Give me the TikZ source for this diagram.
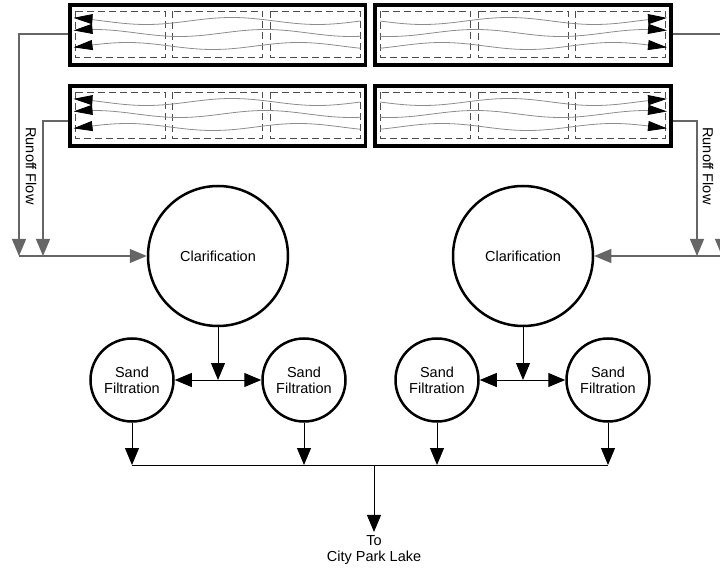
\documentclass[tikz,border=0pt]{standalone}
\usepackage{fontspec}
\setmainfont{Liberation Sans}
\usetikzlibrary{arrows.meta}
\usetikzlibrary{calc}
\tikzset{
	bed/.style={rectangle,draw,line width=3.5pt,minimum width=296pt,minimum height=60pt,inner sep=0pt},
	cell/.style={draw=black!70,line width=0.8pt,dash pattern=on 7pt off 4pt},
	wave/.style={draw=black!45,line width=0.8pt,-{Triangle[length=19pt,width=10pt,color=black]}},
	tank/.style={circle,draw,line width=2.5pt,minimum size=140pt,inner sep=0pt},
	filter/.style={circle,draw,line width=2.5pt,minimum size=83pt,inner sep=0pt,align=center},
	runoff/.style={->,> = {Triangle[length=17pt,width=14pt]},line width=1.1pt,draw=black!60},
	edge/.style={->,> = {Triangle[length=17pt,width=14pt]},line width=1pt}
}

\begin{document}
\begin{tikzpicture}[x=1pt,y=-1pt,font=\fontsize{14.5}{16}\selectfont]
		\useasboundingbox (0,0) rectangle (720,569);
		\clip (0,0) rectangle (720,569);
		
		% filter beds with flow lines
		\foreach \n/\cx/\cy/\s in {bedA/217.5/35/1,bedB/217.5/116/1,bedC/523/35/-1,bedD/523/116/-1}{
			\node[bed] (\n) at (\cx,\cy) {};
			\draw[line width=0.8pt] ($(\n.north west)+(3.2,3.2)$) rectangle ($(\n.south east)+(-3.2,-3.2)$);
			\foreach \dx in {-97.5,0,97.5}
				\draw[cell] (\cx+\dx-45,\cy-24) rectangle (\cx+\dx+45,\cy+22);
			\foreach \dy/\ph in {-14/0,-2/70,11/140}
				\draw[wave] plot[domain=0:287,samples=80] ({\cx+\s*(143-\x)},{\cy+\dy+3.5*sin(2.1*\x+\ph)});
		}
		
		\node[tank] (clarL) at (218,256) {Clarification};
		\node[tank] (clarR) at (523,256) {Clarification};
		\node[filter] (sandA) at (132,380) {Sand\\Filtration};
		\node[filter] (sandB) at (304,380) {Sand\\Filtration};
		\node[filter] (sandC) at (437,380) {Sand\\Filtration};
		\node[filter] (sandD) at (608,380) {Sand\\Filtration};
		\node[align=center] (lake) at (374,550) {To\\City Park Lake};
		\node[rotate=-90] (flowL) at (31,166) {Runoff Flow};
		\node[rotate=-90] (flowR) at (708,166) {Runoff Flow};
		
		\coordinate (dropA) at (19,256);
		\coordinate (dropB) at (43,256);
		\coordinate (dropC) at (697,256);
		\coordinate (dropD) at (722,256);
		\coordinate (splitL) at (218,380);
		\coordinate (splitR) at (523,380);
		\coordinate (outA) at (132,465);
		\coordinate (outB) at (304,465);
		\coordinate (outC) at (437,465);
		\coordinate (outD) at (608,465);
		\coordinate (outM) at (374,465);
		
		% runoff
		\draw[runoff] ($(bedA.west)+(0,-1)$) -| (dropA);
		\draw[runoff] ($(bedB.west)+(0,5)$) -| (dropB);
		\draw[runoff] ($(bedC.east)+(0,-1)$) -| (dropD);
		\draw[runoff] ($(bedD.east)+(0,5)$) -| (dropC);
		\draw[runoff] (dropA) -- (clarL);
		\draw[runoff] (dropD) -- (clarR);
		
		% treatment
		\draw[edge] (clarL) -- (splitL);
		\draw[edge] (clarR) -- (splitR);
		\draw[edge] (splitL) -- (sandA);
		\draw[edge] (splitL) -- (sandB);
		\draw[edge] (splitR) -- (sandC);
		\draw[edge] (splitR) -- (sandD);
		\draw[edge] (sandA) -- (outA);
		\draw[edge] (sandB) -- (outB);
		\draw[edge] (sandC) -- (outC);
		\draw[edge] (sandD) -- (outD);
		\draw[line width=1pt] (outA) -- (outD);
		\draw[edge] (outM) -- (lake);
		\end{tikzpicture}
\end{document}
